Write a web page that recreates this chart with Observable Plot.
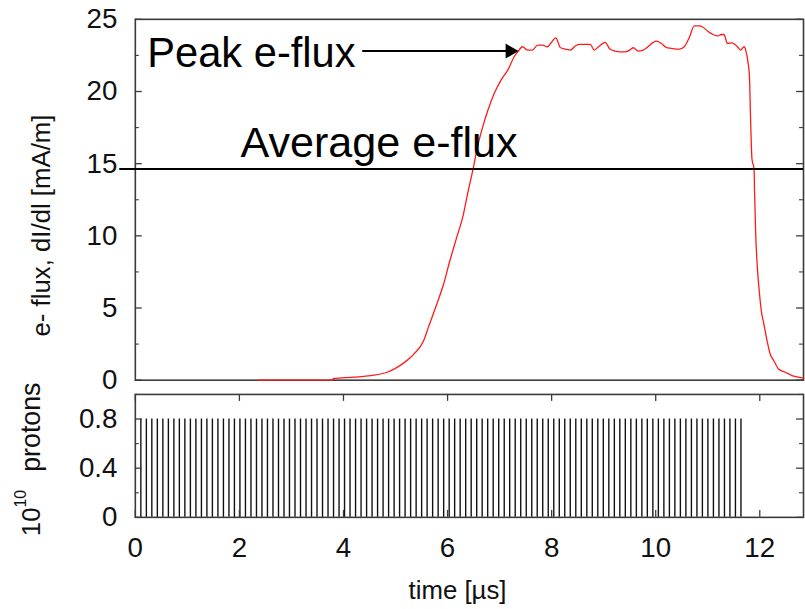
<!DOCTYPE html>
<html><head><meta charset="utf-8">
<script src="https://cdn.jsdelivr.net/npm/d3@7"></script>
<script src="https://cdn.jsdelivr.net/npm/@observablehq/plot@0.6"></script>
<style>
html,body{margin:0;padding:0;background:#fff;overflow:hidden;}
#wrap{position:relative;width:805px;height:609px;overflow:hidden;background:#fff;}
#toppanel,#botpanel{position:absolute;left:0;}
#toppanel{top:0px} #botpanel{top:387px}
</style></head><body><div id="wrap"><div id="toppanel"></div><div id="botpanel"></div></div>
<script>
// ---- data ----
const fluxTime = [2.36, 3.79, 3.80, 4.20, 4.52, 4.84, 5.03, 5.16, 5.28, 5.35, 5.54, 5.63, 5.79, 5.92, 6.04, 6.17, 6.30, 6.39, 6.49, 6.58, 6.68, 6.78, 6.90, 7.03, 7.16, 7.28, 7.35, 7.44, 7.54, 7.63, 7.73, 7.83, 7.92, 7.98, 8.08, 8.17, 8.27, 8.36, 8.46, 8.55, 8.65, 8.74, 8.82, 8.90, 9.03, 9.12, 9.22, 9.31, 9.41, 9.50, 9.57, 9.66, 9.76, 9.85, 9.95, 10.01, 10.11, 10.20, 10.30, 10.39, 10.46, 10.55, 10.65, 10.74, 10.84, 10.90, 11.00, 11.09, 11.19, 11.26, 11.31, 11.38, 11.47, 11.57, 11.63, 11.70, 11.73, 11.77, 11.80, 11.82, 11.85, 11.89, 11.90, 11.92, 11.95, 11.99, 12.03, 12.08, 12.14, 12.20, 12.27, 12.36, 12.49, 12.62, 12.74, 12.85];
const fluxValue = [0, 0, 0.1, 0.21, 0.32, 0.55, 0.89, 1.2, 1.55, 1.81, 2.73, 3.64, 5.24, 6.61, 8.22, 9.82, 11.42, 13.0, 14.63, 16.23, 17.6, 18.75, 19.9, 20.81, 21.5, 22.41, 22.75, 23.1, 22.87, 22.87, 23.21, 23.21, 23.1, 23.33, 23.72, 23.03, 22.94, 22.87, 23.17, 23.26, 23.26, 23.26, 22.87, 23.1, 23.4, 22.94, 22.8, 22.75, 22.75, 22.87, 23.03, 22.8, 22.87, 23.1, 23.4, 23.49, 23.33, 23.06, 22.99, 22.94, 22.94, 23.1, 23.78, 24.54, 24.54, 24.47, 24.18, 23.97, 23.85, 23.95, 23.95, 23.33, 23.37, 23.1, 22.87, 23.1, 22.87, 22.1, 21.15, 18.5, 15.32, 14.63, 13.03, 10.28, 7.99, 6.16, 4.79, 3.87, 2.73, 1.81, 1.35, 0.78, 0.55, 0.32, 0.21, 0.15];
const averageFlux = [14.63];
const bunchTimes = [0.106, 0.212, 0.317, 0.423, 0.529, 0.635, 0.741, 0.846, 0.952, 1.058, 1.164, 1.270, 1.375, 1.481, 1.587, 1.693, 1.799, 1.904, 2.010, 2.116, 2.222, 2.328, 2.433, 2.539, 2.645, 2.751, 2.857, 2.962, 3.068, 3.174, 3.280, 3.386, 3.491, 3.597, 3.703, 3.809, 3.915, 4.020, 4.126, 4.232, 4.338, 4.444, 4.549, 4.655, 4.761, 4.867, 4.973, 5.078, 5.184, 5.290, 5.396, 5.502, 5.607, 5.713, 5.819, 5.925, 6.031, 6.136, 6.242, 6.348, 6.454, 6.560, 6.665, 6.771, 6.877, 6.983, 7.089, 7.194, 7.300, 7.406, 7.512, 7.618, 7.723, 7.829, 7.935, 8.041, 8.147, 8.252, 8.358, 8.464, 8.570, 8.676, 8.781, 8.887, 8.993, 9.099, 9.205, 9.310, 9.416, 9.522, 9.628, 9.734, 9.839, 9.945, 10.051, 10.157, 10.263, 10.368, 10.474, 10.580, 10.686, 10.792, 10.897, 11.003, 11.109, 11.215, 11.321, 11.426, 11.532, 11.638];
const bunchIntensity = [0.8];
const timeTicks = [0, 2, 4, 6, 8, 10, 12];
const fluxTicks = [0, 5, 10, 15, 20, 25];
const fluxMinorTicks = [2.5, 7.5, 12.5, 17.5, 22.5];
const protonTicks = [0, 0.4, 0.8];
const protonMinorTicks = [0.2, 0.6, 1.0];

// ---- layout ----
const xMax = 12.84;
const W = 812, ML = 136, MR = 2;
const PW = W - ML - MR;
const narrow = '"Liberation Sans Narrow", "Arial Narrow", "Liberation Sans", Arial, sans-serif';
const regular = '"Liberation Sans", Arial, Helvetica, sans-serif';
const frameColor = "#3a3a3a";

const flux = fluxTime.map((t, i) => ({t, v: fluxValue[i]}));

const topH = 392, topMT = 19, topMB = 9;

const topPlot = Plot.plot({
  width: W, height: topH,
  marginLeft: ML, marginRight: MR, marginTop: topMT, marginBottom: topMB,
  style: {fontFamily: narrow, background: "transparent", color: "#111", overflow: "visible"},
  x: {domain: [0, xMax], axis: null},
  y: {domain: [0, 25]},
  marks: [
    Plot.frame({stroke: frameColor, strokeWidth: 1.6}),
    Plot.tickY(fluxTicks, {y: d => d, insetRight: PW - 7, stroke: frameColor, strokeWidth: 1.3}),
    Plot.tickY(fluxTicks, {y: d => d, insetLeft: PW - 7, stroke: frameColor, strokeWidth: 1.3}),
    Plot.tickY(fluxMinorTicks, {y: d => d, insetRight: PW - 4, stroke: frameColor, strokeWidth: 1.1}),
    Plot.tickY(fluxMinorTicks, {y: d => d, insetLeft: PW - 4, stroke: frameColor, strokeWidth: 1.1}),
    Plot.axisY(fluxTicks, {tickSize: 0, tickPadding: 18, fontSize: 28, label: null, fill: "#111"}),
    Plot.text(["e- flux, dI/dl [mA/m]"], {frameAnchor: "left", textAnchor: "middle", lineAnchor: "middle", rotate: -90, dx: -94, dy: 26, fontSize: 26, fontFamily: narrow, fill: "#111"}),
    Plot.line(flux, {x: "t", y: "v", stroke: "#ff1a1a", strokeWidth: 1.3, curve: "monotone-x"}),
    Plot.ruleY(averageFlux, {y: d => d, x1: -0.3, x2: xMax, stroke: "#000", strokeWidth: 2}),
    Plot.text(["Average e-flux"], {x: 2.02, y: 15.45, textAnchor: "start", lineAnchor: "bottom", fontSize: 43.5, fontFamily: regular, fill: "#000"}),
    Plot.text(["Peak e-flux"], {x: 0.23, y: 21.7, textAnchor: "start", lineAnchor: "bottom", fontSize: 42, fontFamily: regular, fill: "#000"}),
    Plot.link([0], {x1: 4.36, x2: 7.2, y1: 22.8, y2: 22.8, stroke: "#000", strokeWidth: 2}),
    Plot.dot([0], {x: 7.37, y: 22.8, symbol: "triangle", rotate: 90, r: 5.6, fill: "#000", stroke: "none", dx: -9})
  ]
});
document.getElementById("toppanel").append(topPlot);

const botH = 222, botMT = 7, botMB = 91;
const botPH = botH - botMT - botMB;

const botPlot = Plot.plot({
  width: W, height: botH,
  marginLeft: ML, marginRight: MR, marginTop: botMT, marginBottom: botMB,
  style: {fontFamily: narrow, background: "transparent", color: "#111", overflow: "visible"},
  x: {domain: [0, xMax]},
  y: {domain: [0, 1]},
  marks: [
    Plot.ruleX(bunchTimes, {x: d => d, y1: 0, y2: bunchIntensity[0], stroke: "#111", strokeWidth: 1.4}),
    Plot.tickY(protonTicks, {y: d => d, insetRight: PW - 7, stroke: frameColor, strokeWidth: 1.3}),
    Plot.tickY(protonTicks, {y: d => d, insetLeft: PW - 7, stroke: frameColor, strokeWidth: 1.3}),
    Plot.tickY(protonMinorTicks, {y: d => d, insetRight: PW - 4, stroke: frameColor, strokeWidth: 1.1}),
    Plot.tickY(protonMinorTicks, {y: d => d, insetLeft: PW - 4, stroke: frameColor, strokeWidth: 1.1}),
    Plot.tickX(timeTicks, {x: d => d, insetBottom: botPH - 7, stroke: frameColor, strokeWidth: 1.3}),
    Plot.tickX(timeTicks, {x: d => d, insetTop: botPH - 7, stroke: frameColor, strokeWidth: 1.3}),
    Plot.axisY(protonTicks, {tickSize: 0, tickPadding: 18, fontSize: 28, label: null, fill: "#111", tickFormat: d => d === 0 ? "0" : d.toFixed(1)}),
    Plot.axisX(timeTicks, {tickSize: 0, tickPadding: 20, fontSize: 28, label: null, fill: "#111"}),
    Plot.text(["time [µs]"], {frameAnchor: "bottom", textAnchor: "middle", lineAnchor: "bottom", dx: -12, dy: 82, fontSize: 26, fontFamily: narrow, fill: "#111"}),
    Plot.text(["10"], {frameAnchor: "left", rotate: -90, textAnchor: "start", lineAnchor: "bottom", dx: -96, dy: 81, fontSize: 26, fontFamily: narrow, fill: "#111"}),
    Plot.text(["10"], {frameAnchor: "left", rotate: -90, textAnchor: "start", lineAnchor: "bottom", dx: -110, dy: 52, fontSize: 16, fontFamily: narrow, fill: "#111"}),
    Plot.text(["protons"], {frameAnchor: "left", rotate: -90, textAnchor: "start", lineAnchor: "bottom", dx: -96, dy: 16, fontSize: 27, fontFamily: narrow, fill: "#111"}),
    Plot.frame({stroke: frameColor, strokeWidth: 1.6})
  ]
});
document.getElementById("botpanel").append(botPlot);
</script></body></html>
